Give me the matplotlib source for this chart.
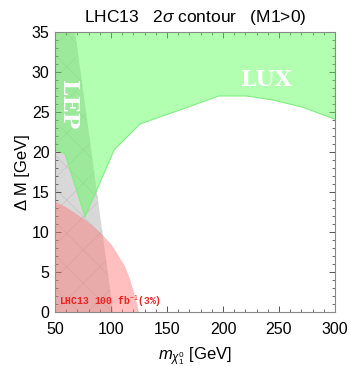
import matplotlib
matplotlib.use("Agg")
import matplotlib.pyplot as plt
from matplotlib.patches import Polygon
from matplotlib.ticker import MultipleLocator

plt.rcParams['font.family'] = ['Liberation Sans', 'DejaVu Sans']
plt.rcParams['mathtext.fontset'] = 'custom'
plt.rcParams['mathtext.rm'] = 'Liberation Sans'
plt.rcParams['mathtext.it'] = 'Liberation Sans:italic'
plt.rcParams['hatch.linewidth'] = 0.35

# LEP excluded band (neutralino mass, mass splitting)
lep_x = [50, 102, 68, 50]
lep_y = [0, 0, 35, 35]

# LUX exclusion: lower boundary, closed along the top of the plot
lux_x = [50, 50, 58.9, 76.8, 103, 125.9, 170.5, 196, 221, 244.6, 271, 300, 300]
lux_y = [35, 20.3, 19.8, 11.9, 20.3, 23.5, 25.7, 27.0, 27.0, 26.5, 25.6, 24.1, 35]

# LHC13 100 fb^-1 (3% systematics) reach
lhc_x = [50, 50, 58.9, 66.4, 70.8, 78.0, 85.7, 93.2, 100.6, 106.0, 112.5, 116.5, 119.9, 123.0, 125.0]
lhc_y = [0, 13.8, 13.2, 12.5, 12.1, 11.4, 10.5, 9.5, 8.4, 7.2, 5.7, 4.3, 2.75, 1.1, 0]

fig = plt.figure(figsize=(3.51, 3.66), dpi=100)
ax = fig.add_axes([55/351, 1-312/366, 280/351, 280/366])

ax.add_patch(Polygon(list(zip(lep_x, lep_y)), closed=True, facecolor='#d8d8d8',
                     edgecolor='#bcbcbc', hatch='x', linewidth=0, zorder=1))
ax.add_patch(Polygon(list(zip(lux_x, lux_y)), closed=True, facecolor=(0.33, 1.0, 0.33),
                     alpha=0.45, edgecolor='none', zorder=2))
ax.plot(lux_x[1:-1], lux_y[1:-1], color='#7fef7f', lw=0.8, zorder=2.5)
ax.add_patch(Polygon(list(zip(lhc_x, lhc_y)), closed=True, facecolor=(1.0, 0.45, 0.45),
                     alpha=0.45, edgecolor='none', zorder=3))

ax.text(61.8, 25.9, 'LEP', rotation=-90, color='white', fontsize=16, fontweight='bold',
        family='DejaVu Serif', ha='center', va='center', zorder=5)
ax.text(239.3, 29.0, 'LUX', color='white', fontsize=16, fontweight='bold',
        family='DejaVu Serif', ha='center', va='center', zorder=5)
ax.text(53.8, 0.35, r'LHC13 100 fb$^{-1}$(3%)', color='#ee2222', fontsize=7,
        fontweight='bold', family='Liberation Mono', ha='left', va='bottom', zorder=5)

ax.set_xlim(50, 300)
ax.set_ylim(0, 35)
ax.xaxis.set_major_locator(MultipleLocator(50))
ax.xaxis.set_minor_locator(MultipleLocator(10))
ax.yaxis.set_major_locator(MultipleLocator(5))
ax.yaxis.set_minor_locator(MultipleLocator(1))
ax.tick_params(which='both', direction='in', top=True, right=True, color='#555555',
               labelsize=11.5)
ax.tick_params(axis='x', pad=7)
ax.tick_params(axis='y', pad=4)
ax.tick_params(which='major', length=4, width=0.7)
ax.tick_params(which='minor', length=2, width=0.6)
for s in ax.spines.values():
    s.set_color('#888888')
    s.set_linewidth(0.8)

ax.set_title(r'LHC13   2$\sigma$ contour   (M1>0)', fontsize=12.5, pad=7)
ax.set_xlabel(r'$m_{\chi_1^0}$ [GeV]', fontsize=12, labelpad=6)
ax.set_ylabel(r'Δ M [GeV]', fontsize=12, labelpad=1)

fig.savefig('out.png', dpi=100)
